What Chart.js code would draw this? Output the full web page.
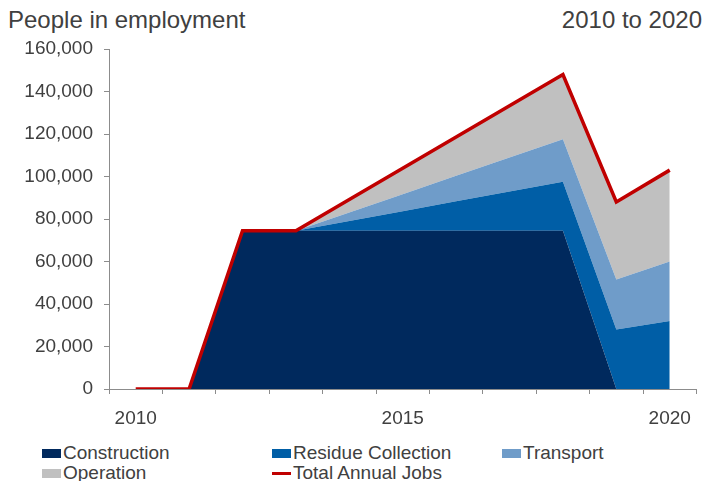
<!DOCTYPE html>
<html>
<head>
<meta charset="utf-8">
<script src="https://cdn.jsdelivr.net/npm/chart.js@4.4.0/dist/chart.umd.min.js"></script>
<style>
  html, body { margin: 0; padding: 0; background: #fff; }
  body {
    width: 704px; height: 481px; position: relative; overflow: hidden;
    font-family: "Liberation Sans", Arial, sans-serif; color: #404040;
  }
  #wrap { position: absolute; left: 0; top: 0; width: 704px; height: 440px; }
  .title { position: absolute; top: 8px; font-size: 24px; line-height: 24px; white-space: nowrap; }
  #titleLeft { left: 8px; }
  #titleRight { right: 2px; }
  #legend .item {
    position: absolute; display: flex; align-items: center;
    height: 20px; font-size: 19px; line-height: 20px; white-space: nowrap;
  }
  #legend .swatch { width: 19px; height: 9px; margin-right: 2px; flex: none; }
  #legend .swatch.line { height: 3px; }
</style>
</head>
<body>
<div id="titleLeft" class="title">People in employment</div>
<div id="titleRight" class="title">2010 to 2020</div>
<div id="wrap"><canvas id="chart" width="704" height="440"></canvas></div>
<div id="legend"></div>

<script>
// Years on the category axis and the few that carry a label
const years = ['2010', '2011', '2012', '2013', '2014', '2015', '2016', '2017', '2018', '2019', '2020'];
const labelledYears = ['2010', '2015', '2020'];

// Jobs by activity (stacked areas)
const construction = [0, 0, 74500, 74500, 74500, 74500, 74500, 74500, 74500, 0, 0];
const residueCollection = [0, 0, 0, 0, 4600, 9200, 13800, 18400, 23000, 28000, 32000];
const transport = [0, 0, 0, 0, 4000, 8000, 12000, 16000, 20000, 23500, 28000];
const operation = [0, 0, 0, 0, 6100, 12200, 18300, 24400, 30500, 36500, 43000];

// Total annual jobs (line)
const totalAnnualJobs = [0, 0, 74500, 74500, 89200, 103900, 118600, 133300, 148000, 88000, 103000];

// Value axis
const yMin = 0;
const yMax = 160000;
const yStep = 20000;

const FONT = '"Liberation Sans", Arial, sans-serif';
const TEXT = '#404040';
const AXIS = '#8c8c8c';

function area(label, data, color, fill) {
  return {
    label, data, fill,
    backgroundColor: color, borderColor: color, borderWidth: 0,
    pointRadius: 0, pointHoverRadius: 0, tension: 0,
    stack: 'jobs', order: 1
  };
}

const chart = new Chart(document.getElementById('chart'), {
  type: 'line',
  data: {
    labels: years,
    datasets: [
      area('Construction', construction, '#00295d', 'origin'),
      area('Residue Collection', residueCollection, '#005ea6', '-1'),
      area('Transport', transport, '#6f9cc9', '-1'),
      area('Operation', operation, '#c0c0c0', '-1'),
      {
        label: 'Total Annual Jobs', data: totalAnnualJobs, fill: false,
        borderColor: '#c00000', backgroundColor: '#c00000', borderWidth: 3.5,
        borderJoinStyle: 'miter', pointRadius: 0, pointHoverRadius: 0, tension: 0,
        stack: 'total', order: 0
      }
    ]
  },
  options: {
    responsive: false,
    animation: false,
    devicePixelRatio: 1,
    layout: { padding: { left: 0, right: 3, top: 49, bottom: 11 } },
    plugins: { legend: { display: false }, tooltip: { enabled: false } },
    scales: {
      x: {
        type: 'category',
        offset: true,
        grid: { offset: true, drawOnChartArea: false, tickLength: 5, color: AXIS, lineWidth: 1 },
        border: { color: AXIS, width: 1 },
        ticks: {
          autoSkip: false, maxRotation: 0, padding: 13,
          color: TEXT, font: { family: FONT, size: 19 },
          callback: (v, i) => labelledYears.includes(years[i]) ? years[i] : ''
        },
        afterFit: (scale) => { scale.height = 40; }
      },
      y: {
        stacked: true,
        min: yMin, max: yMax,
        grid: { drawOnChartArea: false, tickLength: 5, color: AXIS, lineWidth: 1 },
        border: { color: AXIS, width: 1 },
        ticks: {
          stepSize: yStep, padding: 11,
          color: TEXT, font: { family: FONT, size: 19 },
          callback: (v) => Number(v).toLocaleString('en-US')
        },
        afterFit: (scale) => { scale.width = 109; }
      }
    }
  }
});

// Legend laid out in two rows of three columns
const legendSlots = [[42, 443], [272, 443], [502, 443], [42, 463], [272, 463]];
const legend = document.getElementById('legend');
chart.data.datasets.forEach((ds, i) => {
  const item = document.createElement('div');
  item.className = 'item';
  item.style.left = legendSlots[i][0] + 'px';
  item.style.top = legendSlots[i][1] + 'px';
  const sw = document.createElement('span');
  sw.className = 'swatch' + (ds.fill === false ? ' line' : '');
  sw.style.background = ds.fill === false ? ds.borderColor : ds.backgroundColor;
  const txt = document.createElement('span');
  txt.textContent = ds.label;
  item.appendChild(sw);
  item.appendChild(txt);
  legend.appendChild(item);
});
</script>
</body>
</html>
